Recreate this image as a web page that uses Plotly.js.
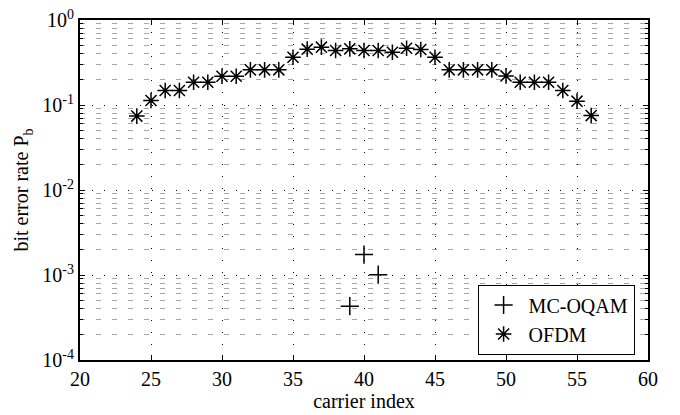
<!DOCTYPE html>
<html>
<head>
<meta charset="utf-8">
<script src="https://cdn.plot.ly/plotly-3.0.1.min.js"></script>
<style>html,body{margin:0;padding:0;background:#fff;}#chart{width:680px;height:415px;}</style>
</head>
<body>
<div id="chart"></div>
<script>
// Data
const ofdmCarriers = [24,25,26,27,28,29,30,31,32,33,34,35,36,37,38,39,40,41,42,43,44,45,46,47,48,49,50,51,52,53,54,55,56];
const ofdmBer = [0.074,0.113,0.148,0.148,0.185,0.185,0.218,0.218,0.259,0.259,0.259,0.365,0.454,0.479,0.438,0.458,0.438,0.438,0.418,0.466,0.45,0.365,0.259,0.259,0.259,0.259,0.22,0.185,0.185,0.185,0.148,0.111,0.075];
const oqamCarriers = [39,40,41];
const oqamBer = [4.3e-4,1.74e-3,1.01e-3];
const xTickVals = [20,25,30,35,40,45,50,55,60];
const yTickVals = [1e-4,1e-3,1e-2,1e-1,1];
const yTickText = ['10<sup>-4</sup>','10<sup>-3</sup>','10<sup>-2</sup>','10<sup>-1</sup>','10<sup>0</sup>'];
const yMinorVals = [];
for (const d of [1e-4,1e-3,1e-2,1e-1]) for (const m of [2,3,4,5,6,7,8,9]) yMinorVals.push(m*d);

const fontFam = 'Liberation Serif';
const fs = 20;
const traces = [
  {x: oqamCarriers, y: oqamBer, mode: 'markers', name: 'MC-OQAM',
   marker: {symbol: 'cross-thin-open', size: 13, color: 'black', line: {color: 'black', width: 1.5}}},
  {x: ofdmCarriers, y: ofdmBer, mode: 'markers', name: 'OFDM',
   marker: {symbol: 'asterisk-open', size: 13, color: 'black', line: {color: 'black', width: 1.5}}}
];
const layout = {
  width: 680, height: 415,
  margin: {l: 80, r: 32, t: 20, b: 55},
  paper_bgcolor: 'white', plot_bgcolor: 'white',
  font: {family: fontFam, size: fs, color: 'black'},
  showlegend: true,
  legend: {x: 0.70, y: 0.222, xanchor: 'left', yanchor: 'top',
           bordercolor: 'black', borderwidth: 1, bgcolor: 'white', itemwidth: 40,
           font: {family: fontFam, size: fs, color: 'black'}, tracegroupgap: 0},
  xaxis: {range: [20, 60], tickvals: xTickVals, ticks: 'inside', ticklen: 5, tickcolor: 'black',
          showline: true, linecolor: 'black', linewidth: 2, mirror: 'ticks',
          showgrid: true, gridcolor: 'black', gridwidth: 1, griddash: '1px,11px',
          zeroline: false, tickfont: {family: fontFam, size: fs},
          title: {text: 'carrier index', font: {family: fontFam, size: fs}, standoff: 2}},
  yaxis: {type: 'log', range: [-4, 0], tickvals: yTickVals, ticktext: yTickText,
          ticks: 'inside', ticklen: 5, tickcolor: 'black',
          showline: true, linecolor: 'black', linewidth: 2, mirror: 'ticks',
          showgrid: true, gridcolor: 'black', gridwidth: 1, griddash: '1px,11px',
          zeroline: false, tickfont: {family: fontFam, size: fs},
          minor: {tickvals: yMinorVals, ticks: 'inside', ticklen: 3, tickcolor: 'black',
                  showgrid: true, gridcolor: '#a8a8a8', gridwidth: 1, griddash: '5px,11px'},
          title: {text: 'bit error rate P<sub>b</sub>', font: {family: fontFam, size: fs}, standoff: 8}}
};
Plotly.newPlot('chart', traces, layout, {displayModeBar: false, staticPlot: true});
</script>
</body>
</html>
